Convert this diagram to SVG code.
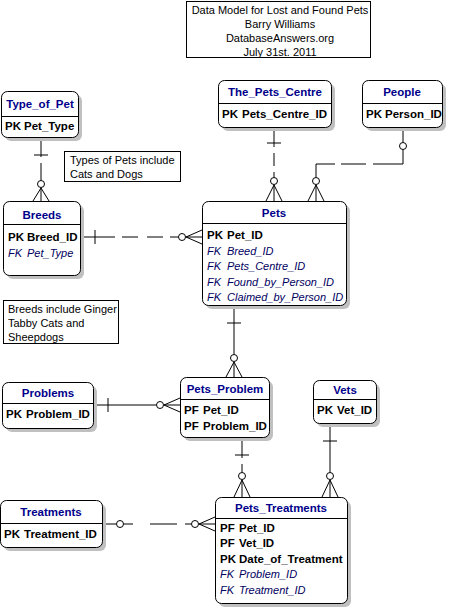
<svg xmlns="http://www.w3.org/2000/svg" width="450" height="609" viewBox="0 0 450 609">
<style>
.shadow{fill:#c0c0c0;stroke:none}
.box{fill:#fff;stroke:#000;stroke-width:1}
.sep{stroke:#000;stroke-width:1}
.hdr{font-family:"Liberation Sans",Arial,sans-serif;font-size:11.5px;font-weight:bold;fill:#00008b;text-anchor:middle}
.pk{font-family:"Liberation Sans",Arial,sans-serif;font-size:11.5px;font-weight:bold;fill:#000}
.fk{font-family:"Liberation Sans",Arial,sans-serif;font-size:11px;font-style:italic;fill:#000060}
.note{font-family:"Liberation Sans",Arial,sans-serif;font-size:11px;fill:#000}
.ln{stroke:#000;stroke-width:1;fill:none}
.dot{fill:#fff;stroke:#000;stroke-width:1}
.nb{fill:#fff;stroke:#000;stroke-width:1}
</style>
<rect width="450" height="609" fill="#fff"/>

<g id="title">
<rect class="nb" x="186.5" y="1.5" width="184" height="56"/>
<text class="note" x="280" y="14" text-anchor="middle">Data Model for Lost and Found Pets</text>
<text class="note" x="280" y="28" text-anchor="middle">Barry Williams</text>
<text class="note" x="280" y="42" text-anchor="middle">DatabaseAnswers.org</text>
<text class="note" x="280" y="56" text-anchor="middle">July 31st. 2011</text>
</g>

<g id="note_types">
<rect class="nb" x="64.5" y="151.5" width="116" height="30"/>
<text class="note" x="70" y="164">Types of Pets include</text>
<text class="note" x="70" y="178">Cats and Dogs</text>
</g>

<g id="note_breeds">
<rect class="nb" x="3.5" y="300.5" width="115" height="43"/>
<text class="note" x="8" y="313">Breeds include Ginger</text>
<text class="note" x="8" y="327">Tabby Cats and</text>
<text class="note" x="8" y="341">Sheepdogs</text>
</g>

<g id="connectors">
<!-- Type_of_Pet to Breeds -->
<path class="ln" d="M41,137V157M41,163V180.5"/>
<path class="ln" d="M34,155H48"/>
<circle class="dot" cx="41" cy="184" r="3.5"/>
<path class="ln" d="M41,188L33,201M41,188V201M41,188L49,201"/>
<!-- The_Pets_Centre to Pets -->
<path class="ln" d="M274,127V147M274,153V166M274,172V177.5"/>
<path class="ln" d="M267,143H281"/>
<circle class="dot" cx="274" cy="181" r="3.5"/>
<path class="ln" d="M274,185L266,201M274,185V201M274,185L282,201"/>
<!-- People to Pets -->
<path class="ln" d="M403,128V142.5M403,149.5V164H373M366,164H341M335,164H316V177.5"/>
<circle class="dot" cx="403" cy="146" r="3.5"/>
<circle class="dot" cx="316" cy="181" r="3.5"/>
<path class="ln" d="M316,185L308,201M316,185V201M316,185L324,201"/>
<!-- Breeds to Pets -->
<path class="ln" d="M80,237H115M122,237H138M147,237H163M170,237H178.5"/>
<path class="ln" d="M95,230V244"/>
<circle class="dot" cx="182" cy="237" r="3.5"/>
<path class="ln" d="M186,237L202,230M186,237H202M186,237L202,244"/>
<!-- Pets to Pets_Problem -->
<path class="ln" d="M234,305V354.5"/>
<path class="ln" d="M227,323H241"/>
<circle class="dot" cx="234" cy="358" r="3.5"/>
<path class="ln" d="M234,362L226,377M234,362V377M234,362L242,377"/>
<!-- Problems to Pets_Problem -->
<path class="ln" d="M93,405H156.5"/>
<path class="ln" d="M108,398V412"/>
<circle class="dot" cx="160" cy="405" r="3.5"/>
<path class="ln" d="M164,405L180,398M164,405H180M164,405L180,412"/>
<!-- Pets_Problem to Pets_Treatments -->
<path class="ln" d="M242,437V458M242,464V472.5"/>
<path class="ln" d="M235,455H249"/>
<circle class="dot" cx="242" cy="476" r="3.5"/>
<path class="ln" d="M242,480L234,497M242,480V497M242,480L250,497"/>
<!-- Vets to Pets_Treatments -->
<path class="ln" d="M330,423V472.5"/>
<path class="ln" d="M323,441H337"/>
<circle class="dot" cx="330" cy="476" r="3.5"/>
<path class="ln" d="M330,480L322,497M330,480V497M330,480L338,497"/>
<!-- Treatments to Pets_Treatments -->
<path class="ln" d="M102,524H116.5M123.5,524H133M150,524H177M185,524H191.5"/>
<circle class="dot" cx="120" cy="524" r="3.5"/>
<circle class="dot" cx="195" cy="524" r="3.5"/>
<path class="ln" d="M199,524L215,517M199,524H215M199,524L215,531"/>
</g>

<g id="Type_of_Pet">
<rect class="shadow" x="5" y="95" width="77" height="46" rx="6"/>
<rect class="box" x="1.5" y="91.5" width="77" height="46" rx="6"/>
<line class="sep" x1="1.5" y1="116.5" x2="78.5" y2="116.5"/>
<text class="hdr" x="40" y="108">Type_of_Pet</text>
<text class="pk" x="5" y="130">PK</text><text class="pk" x="24" y="130">Pet_Type</text>
</g>

<g id="The_Pets_Centre">
<rect class="shadow" x="222" y="84" width="113" height="47" rx="6"/>
<rect class="box" x="218.5" y="80.5" width="113" height="47" rx="6"/>
<line class="sep" x1="218.5" y1="103.5" x2="331.5" y2="103.5"/>
<text class="hdr" x="275" y="96">The_Pets_Centre</text>
<text class="pk" x="222" y="118">PK</text><text class="pk" x="242" y="118">Pets_Centre_ID</text>
</g>

<g id="People">
<rect class="shadow" x="366" y="84" width="80" height="47" rx="6"/>
<rect class="box" x="362.5" y="80.5" width="80" height="47" rx="6"/>
<line class="sep" x1="362.5" y1="103.5" x2="442.5" y2="103.5"/>
<text class="hdr" x="402" y="96">People</text>
<text class="pk" x="366" y="118">PK</text><text class="pk" x="385" y="118">Person_ID</text>
</g>

<g id="Breeds">
<rect class="shadow" x="7" y="205" width="77" height="74" rx="6"/>
<rect class="box" x="3.5" y="201.5" width="77" height="74" rx="6"/>
<line class="sep" x1="3.5" y1="224.5" x2="80.5" y2="224.5"/>
<text class="hdr" x="42" y="219">Breeds</text>
<text class="pk" x="8" y="241">PK</text><text class="pk" x="27" y="241">Breed_ID</text>
<text class="fk" x="8" y="257">FK</text><text class="fk" x="27" y="257">Pet_Type</text>
</g>

<g id="Pets">
<rect class="shadow" x="206" y="205" width="144" height="104" rx="6"/>
<rect class="box" x="202.5" y="201.5" width="144" height="104" rx="6"/>
<line class="sep" x1="202.5" y1="223.5" x2="346.5" y2="223.5"/>
<text class="hdr" x="274" y="217">Pets</text>
<text class="pk" x="207" y="239">PK</text><text class="pk" x="227" y="239">Pet_ID</text>
<text class="fk" x="207" y="254.5">FK</text><text class="fk" x="227" y="254.5">Breed_ID</text>
<text class="fk" x="207" y="270">FK</text><text class="fk" x="227" y="270">Pets_Centre_ID</text>
<text class="fk" x="207" y="285.5">FK</text><text class="fk" x="227" y="285.5">Found_by_Person_ID</text>
<text class="fk" x="207" y="301">FK</text><text class="fk" x="227" y="301">Claimed_by_Person_ID</text>
</g>

<g id="Problems">
<rect class="shadow" x="6" y="386" width="91" height="46" rx="6"/>
<rect class="box" x="2.5" y="382.5" width="91" height="46" rx="6"/>
<line class="sep" x1="2.5" y1="403.5" x2="93.5" y2="403.5"/>
<text class="hdr" x="48" y="397">Problems</text>
<text class="pk" x="6" y="418">PK</text><text class="pk" x="26" y="418">Problem_ID</text>
</g>

<g id="Pets_Problem">
<rect class="shadow" x="184" y="381" width="89" height="60" rx="6"/>
<rect class="box" x="180.5" y="377.5" width="89" height="60" rx="6"/>
<line class="sep" x1="180.5" y1="399.5" x2="269.5" y2="399.5"/>
<text class="hdr" x="225" y="393">Pets_Problem</text>
<text class="pk" x="184" y="414">PF</text><text class="pk" x="203" y="414">Pet_ID</text>
<text class="pk" x="184" y="430">PF</text><text class="pk" x="203" y="430">Problem_ID</text>
</g>

<g id="Vets">
<rect class="shadow" x="317" y="384" width="63" height="43" rx="6"/>
<rect class="box" x="313.5" y="380.5" width="63" height="43" rx="6"/>
<line class="sep" x1="313.5" y1="399.5" x2="376.5" y2="399.5"/>
<text class="hdr" x="345" y="394">Vets</text>
<text class="pk" x="317" y="414">PK</text><text class="pk" x="337" y="414">Vet_ID</text>
</g>

<g id="Treatments">
<rect class="shadow" x="4" y="504" width="102" height="47" rx="6"/>
<rect class="box" x="0.5" y="500.5" width="102" height="47" rx="6"/>
<line class="sep" x1="0.5" y1="523.5" x2="102.5" y2="523.5"/>
<text class="hdr" x="51" y="516">Treatments</text>
<text class="pk" x="4" y="538">PK</text><text class="pk" x="24" y="538">Treatment_ID</text>
</g>

<g id="Pets_Treatments">
<rect class="shadow" x="219" y="501" width="132" height="106" rx="6"/>
<rect class="box" x="215.5" y="497.5" width="132" height="106" rx="6"/>
<line class="sep" x1="215.5" y1="518.5" x2="347.5" y2="518.5"/>
<text class="hdr" x="281" y="512">Pets_Treatments</text>
<text class="pk" x="220" y="532">PF</text><text class="pk" x="239" y="532">Pet_ID</text>
<text class="pk" x="220" y="547">PF</text><text class="pk" x="239" y="547">Vet_ID</text>
<text class="pk" x="220" y="563">PK</text><text class="pk" x="239" y="563">Date_of_Treatment</text>
<text class="fk" x="220" y="578">FK</text><text class="fk" x="239" y="578">Problem_ID</text>
<text class="fk" x="220" y="594">FK</text><text class="fk" x="239" y="594">Treatment_ID</text>
</g>
</svg>
